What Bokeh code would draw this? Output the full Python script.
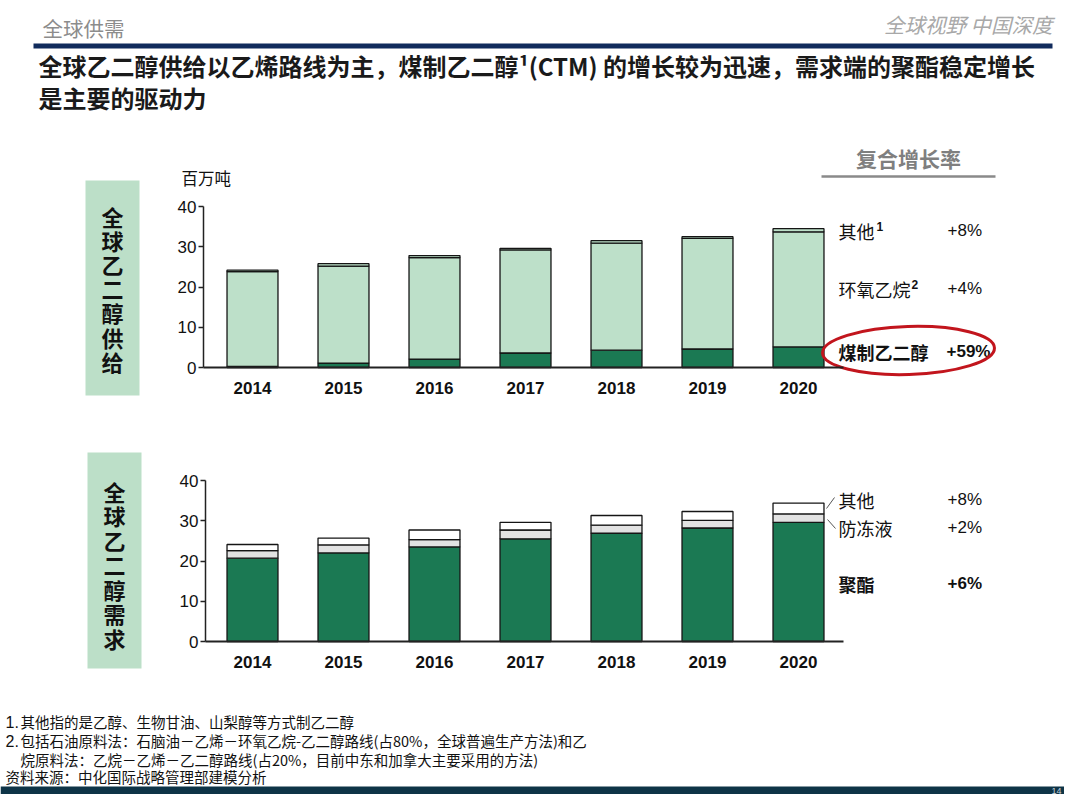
import numpy as np
from bokeh.plotting import figure
from bokeh.models import Range1d, LinearAxis, FixedTicker
from bokeh.core.properties import value
from bokeh.embed import file_html
from bokeh.resources import INLINE

# ---------------- data ----------------
years = [2014, 2015, 2016, 2017, 2018, 2019, 2020]
year_labels = ["2014", "2015", "2016", "2017", "2018", "2019", "2020"]
y_ticks = [0, 10, 20, 30, 40]

# supply (million tonnes)
supply_ctm = [0.3, 1.1, 2.1, 3.6, 4.3, 4.6, 5.1]          # 煤制乙二醇
supply_eo = [23.5, 24.1, 25.2, 25.6, 26.6, 27.5, 28.6]    # 环氧乙烷
supply_other = [0.4, 0.6, 0.5, 0.4, 0.6, 0.4, 0.8]        # 其他

# demand (million tonnes)
demand_polyester = [20.7, 22.0, 23.5, 25.5, 26.9, 28.2, 29.6]  # 聚酯
demand_antifreeze = [1.9, 2.0, 1.8, 2.2, 2.0, 1.9, 2.1]        # 防冻液
demand_other = [1.5, 1.7, 2.4, 1.9, 2.4, 2.2, 2.7]             # 其他

supply_names = ["煤制乙二醇", "环氧乙烷", "其他"]
supply_cagr = ["+59%", "+4%", "+8%"]
demand_names = ["聚酯", "防冻液", "其他"]
demand_cagr = ["+6%", "+2%", "+8%"]

header_left = "全球供需"
header_right = "全球视野 中国深度"
title_lines = ["全球乙二醇供给以乙烯路线为主，煤制乙二醇¹(CTM) 的增长较为迅速，需求端的聚酯稳定增长",
               "是主要的驱动力"]
unit_label = "百万吨"
cagr_header = "复合增长率"
side_supply = "全球乙二醇供给"
side_demand = "全球乙二醇需求"
footnotes = ["其他指的是乙醇、生物甘油、山梨醇等方式制乙二醇",
             "包括石油原料法：石脑油－乙烯－环氧乙烷-乙二醇路线(占80%，全球普遍生产方法)和乙",
             "烷原料法：乙烷－乙烯－乙二醇路线(占20%，目前中东和加拿大主要采用的方法)"]
source_note = "资料来源：中化国际战略管理部建模分析"
page_no = "14"

# ---------------- styles ----------------
DARK_GREEN = "#1b7953"
LIGHT_GREEN = "#bde0c9"
BOX_GREEN = "#bcdfc8"
GREY_FILL = "#e2e2e2"
NAVY = "#112b5c"
CJK = value("Noto Sans CJK SC")
LAT = value("Liberation Sans")

W, H = 1064, 794
PX_PER_YEAR = 91.0
X2014 = 252.0
PPU = 4.025  # pixels per million tonnes


def yr(px):
    return 2014 + (px - X2014) / PX_PER_YEAR


def vrange(zero_px):
    return Range1d(-(H - zero_px) / PPU, zero_px / PPU)


p = figure(width=W, height=H, x_range=Range1d(0, W), y_range=Range1d(H, 0),
           x_axis_type=None, y_axis_type=None, toolbar_location=None,
           output_backend="svg", min_border=0, outline_line_color=None,
           background_fill_color="white", border_fill_color="white")
p.extra_x_ranges = {"yr": Range1d(yr(0), yr(W))}
p.extra_y_ranges = {"top": vrange(367), "bot": vrange(641)}


def txt(x, y, s, size, color="#111111", bold=False, align="left", font=CJK, italic=False):
    style = "bold" if bold else ("italic" if italic else "normal")
    p.text(x=[x], y=[y], text=[s], text_font=font, text_font_size=value(f"{size}px"),
           text_font_style=style, text_color=color, text_align=align, text_baseline="middle")


# ---------------- header ----------------
txt(42, 27, header_left, 20.5, color="#8c8c8c")
txt(1052, 23, header_right, 20.5, color="#a8a8a8", align="right", italic=True)
p.quad(left=[33], right=[1052], top=[43], bottom=[48], fill_color=NAVY, line_color=None)
txt(38, 65, title_lines[0], 24, color="#1a1a1a", bold=True)
txt(38, 97, title_lines[1], 24, color="#1a1a1a", bold=True)

# ---------------- side boxes ----------------
p.quad(left=[85], right=[139], top=[180], bottom=[395], fill_color=BOX_GREEN, line_color=None)
p.text(x=[112] * len(side_supply), y=[215 + 24.2 * i for i in range(len(side_supply))],
       text=list(side_supply), text_font=CJK, text_font_size=value("22px"), text_font_style="bold",
       text_color="#111111", text_align="center", text_baseline="middle")
p.quad(left=[87], right=[141], top=[452], bottom=[668], fill_color=BOX_GREEN, line_color=None)
p.text(x=[114] * len(side_demand), y=[490 + 24.5 * i for i in range(len(side_demand))],
       text=list(side_demand), text_font=CJK, text_font_size=value("22px"), text_font_style="bold",
       text_color="#111111", text_align="center", text_baseline="middle")


# ---------------- bars ----------------
def stack(series, colors, yname):
    bottom = np.zeros(len(years))
    for vals, col in zip(series, colors):
        top = bottom + np.array(vals, dtype=float)
        p.vbar(x=years, bottom=bottom, top=top, width=0.56, fill_color=col,
               line_color="#151515", line_width=1.3, x_range_name="yr", y_range_name=yname)
        bottom = top


stack([supply_ctm, supply_eo, supply_other], [DARK_GREEN, LIGHT_GREEN, LIGHT_GREEN], "top")
stack([demand_polyester, demand_antifreeze, demand_other], [DARK_GREEN, GREY_FILL, "white"], "bot")


# ---------------- axes ----------------
def add_axes(yname, axis_px):
    ya = LinearAxis(y_range_name=yname, fixed_location=axis_px, bounds=(0, 40),
                    ticker=FixedTicker(ticks=y_ticks, minor_ticks=[]))
    ya.axis_line_color = "#222222"
    ya.axis_line_width = 1.5
    ya.major_tick_line_color = "#222222"
    ya.major_tick_line_width = 1.5
    ya.major_tick_out = 5
    ya.major_tick_in = 0
    ya.minor_tick_line_color = None
    ya.major_label_standoff = 2
    ya.major_label_text_font = "Liberation Sans"
    ya.major_label_text_font_size = "17px"
    ya.major_label_text_color = "#111111"
    p.add_layout(ya, "left")

    xa = LinearAxis(x_range_name="yr", y_range_name=yname, fixed_location=0,
                    bounds=(yr(axis_px), yr(843)),
                    ticker=FixedTicker(ticks=years, minor_ticks=[]),
                    major_label_overrides={y: s for y, s in zip(years, year_labels)})
    xa.axis_line_color = "#222222"
    xa.axis_line_width = 2
    xa.major_tick_line_color = None
    xa.minor_tick_line_color = None
    xa.major_tick_out = 0
    xa.major_tick_in = 0
    xa.major_label_standoff = 14
    xa.major_label_text_font = "Liberation Sans"
    xa.major_label_text_font_style = "bold"
    xa.major_label_text_font_size = "17px"
    xa.major_label_text_color = "#111111"
    p.add_layout(xa, "below")


add_axes("top", 203)
add_axes("bot", 205)

txt(181, 177, unit_label, 16.5)

# ---------------- CAGR legend ----------------
txt(908, 157, cagr_header, 21, color="#7f7f7f", bold=True, align="center")
p.segment(x0=[821], y0=[176], x1=[995], y1=[176], line_color="#8a8a8a", line_width=2.5)

# supply legend
txt(838, 230, supply_names[2], 18)
txt(876, 226, "1", 12, bold=True, font=LAT)
txt(947, 230, supply_cagr[2], 17, font=LAT)
txt(838, 288, supply_names[1], 18)
txt(911, 284, "2", 12, bold=True, font=LAT)
txt(947, 288, supply_cagr[1], 17, font=LAT)
txt(838, 351, supply_names[0], 18, bold=True)
txt(946, 351, supply_cagr[0], 17, bold=True, font=LAT)
p.ellipse(x=[908], y=[350], width=[172], height=[48], angle=0.03,
          fill_color=None, line_color="#c2151d", line_width=3)

# demand legend
txt(838, 499, demand_names[2], 18)
txt(947, 499, demand_cagr[2], 17, font=LAT)
txt(838, 527, demand_names[1], 18)
txt(947, 527, demand_cagr[1], 17, font=LAT)
txt(838, 583, demand_names[0], 18, bold=True)
txt(947, 583, demand_cagr[0], 17, bold=True, font=LAT)
p.segment(x0=[826, 827], y0=[508, 519], x1=[834, 835], y1=[497, 528], line_color="#555555", line_width=1)

# ---------------- footnotes ----------------
txt(5, 721, "1.", 16, font=LAT)
txt(20, 721, footnotes[0], 14.5)
txt(5, 740, "2.", 16, font=LAT)
txt(20, 740, footnotes[1], 14.5)
txt(20, 759, footnotes[2], 14.5)
txt(5, 776, source_note, 14.5)

p.quad(left=[0], right=[W], top=[786], bottom=[H + 2], fill_color="#0e3447", line_color=None)
txt(1056, 790, page_no, 9, color="#c8d2da", align="center", font=LAT)

open("out.html", "w").write(file_html(p, INLINE))
